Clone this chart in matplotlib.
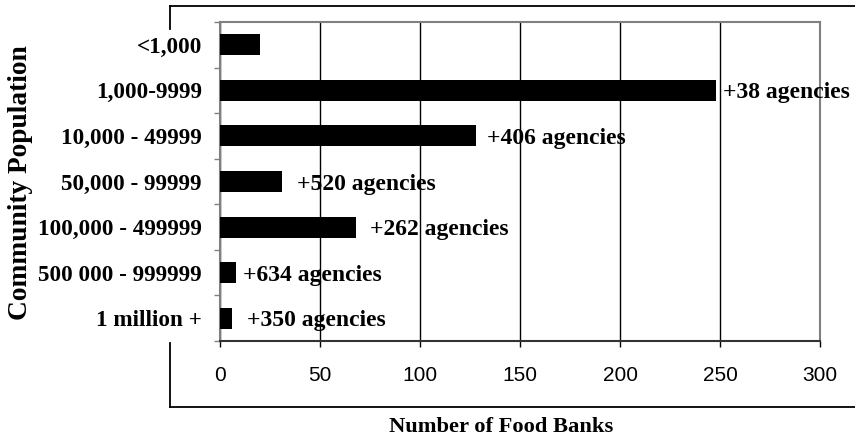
import matplotlib.pyplot as plt
from matplotlib.lines import Line2D

# community size bands, top to bottom
categories = ["<1,000", "1,000-9999", "10,000 - 49999", "50,000 - 99999",
              "100,000 - 499999", "500 000 - 999999", "1 million +"]
food_banks = [20, 248, 128, 31, 68, 8, 6]
agency_labels = ["", "+38 agencies", "+406 agencies", "+520 agencies",
                 "+262 agencies", "+634 agencies", "+350 agencies"]
label_gap = [0, 5, 8, 11, 10, 5, 11]  # points between bar end and its label
x_ticks = [0, 50, 100, 150, 200, 250, 300]

serif = "Liberation Serif"

fig = plt.figure(figsize=(8.55, 4.42), dpi=100)
ax = fig.add_axes([0.2573, 0.2285, 0.9591 - 0.2573, 0.9502 - 0.2285])

y = list(range(len(categories)))
ax.barh(y, food_banks, height=0.46, color="black", zorder=3)

for yi, val, txt, gap in zip(y, food_banks, agency_labels, label_gap):
    if txt:
        ax.annotate(txt, (val, yi), xytext=(gap, 0), textcoords="offset points",
                    va="center_baseline", ha="left", fontsize=17, fontweight="bold",
                    family=serif, zorder=4, annotation_clip=False)

ax.set_xlim(0, 300)
ax.set_ylim(len(categories) - 0.5, -0.5)
ax.set_xticks(x_ticks)
ax.set_xticklabels([str(t) for t in x_ticks], family="Liberation Sans", fontsize=15)
ax.tick_params(axis="x", direction="out", length=4, width=1, pad=14, colors="black")

# category names sit on their rows, ticks mark the row boundaries
ax.set_yticks(y)
ax.set_yticklabels(categories, family=serif, fontweight="bold", fontsize=16.7)
ax.tick_params(axis="y", length=0, pad=13)
ax.set_yticks([i + 0.5 for i in range(-1, len(categories))], minor=True)
ax.tick_params(axis="y", which="minor", direction="out", length=4, width=1, color="#808080")

ax.grid(axis="x", color="black", linewidth=1, zorder=1)
for side in ["top", "right", "left"]:
    ax.spines[side].set_color("#808080")
    ax.spines[side].set_linewidth(1.5)
ax.spines["bottom"].set_color("#333333")
ax.spines["bottom"].set_linewidth(1.5)

# outer frame around the chart, broken where the row names stick out
W, H = 855, 442
def fig_line(xs, ys):
    fig.add_artist(Line2D([x / W for x in xs], [1 - v / H for v in ys],
                          color="black", linewidth=1.3))
fig_line([169.5, 855], [5.7, 5.7])
fig_line([169.5, 169.5], [5.7, 29])
fig_line([169.5, 169.5], [343, 407])
fig_line([169.5, 855], [407, 407])

fig.text(501 / W, 1 - 427 / H, "Number of Food Banks", ha="center", va="center",
         family=serif, fontweight="bold", fontsize=16.2)
fig.text(21 / W, 1 - 183 / H, "Community Population", ha="center", va="center",
         rotation=90, family=serif, fontweight="bold", fontsize=19.7)

fig.savefig("out.png", dpi=100)
